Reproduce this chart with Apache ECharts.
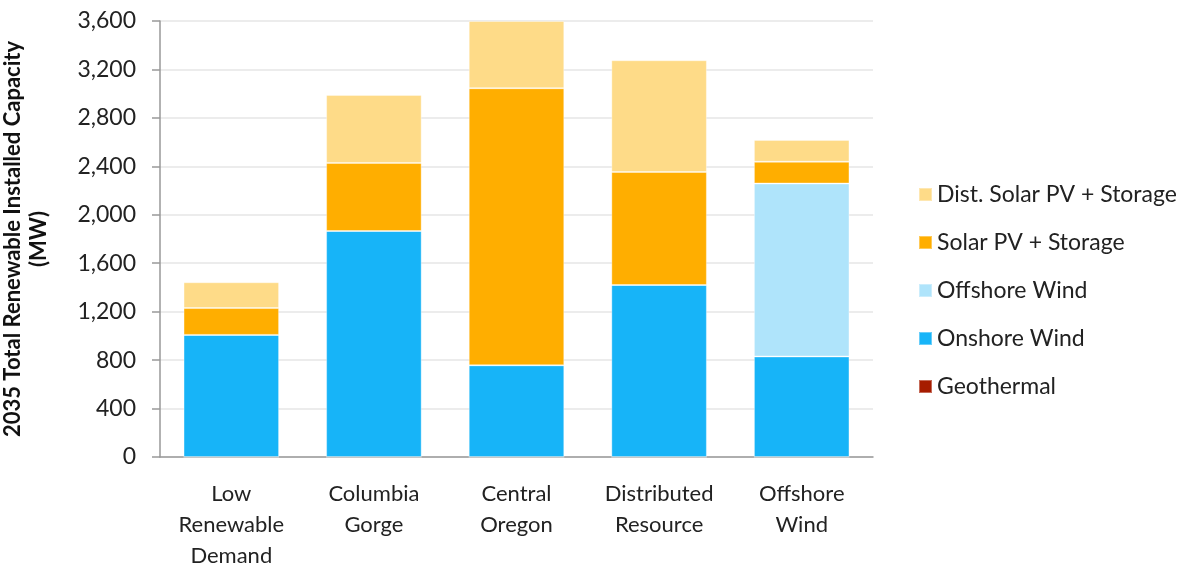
<!DOCTYPE html>
<html>
<head>
<meta charset="utf-8">
<script src="https://cdn.jsdelivr.net/npm/echarts@6/dist/echarts.min.js"></script>
<style>
  html, body { margin: 0; padding: 0; background: #fff; }
  #chart { width: 1196px; height: 571px; }
</style>
</head>
<body>
<div id="chart"></div>
<script>
// scenarios on the x axis
var categories = ['Low\nRenewable\nDemand', 'Columbia\nGorge', 'Central\nOregon', 'Distributed\nResource', 'Offshore\nWind'];

// stacked segments, MW (bottom to top)
var geothermal = [0, 0, 0, 0, 0];
var onshoreWind = [1008, 1866, 757, 1420, 830];
var offshoreWind = [0, 0, 0, 0, 1428];
var solarStorage = [222, 562, 2288, 933, 180];
var distSolarStorage = [213, 561, 555, 923, 180];

var yTicks = [0, 400, 800, 1200, 1600, 2000, 2400, 2800, 3200, 3600];

var font = 'Lato, "Open Sans", sans-serif';
var myChart = echarts.init(document.getElementById('chart'));

function seg(name, data, color) {
  return {
    name: name,
    type: 'bar',
    stack: 'total',
    barWidth: '67%',
    data: data,
    itemStyle: { color: color, borderColor: 'rgba(255,255,255,0.35)', borderWidth: 1 }
  };
}

var option = {
  animation: false,
  grid: { left: 160, right: 323, top: 21, bottom: 114, outerBoundsMode: 'none' },
  legend: {
    orient: 'vertical',
    left: 913,
    top: 178,
    itemWidth: 13,
    itemHeight: 13,
    itemGap: 25,
    icon: 'rect',
    textStyle: { fontFamily: font, fontSize: 23, color: '#222' },
    data: ['Dist. Solar PV + Storage', 'Solar PV + Storage', 'Offshore Wind', 'Onshore Wind', 'Geothermal']
  },
  xAxis: {
    type: 'category',
    data: categories,
    axisLine: { lineStyle: { color: '#999', width: 1.5 } },
    axisTick: { length: 8, lineStyle: { color: '#999', width: 1.5 } },
    axisLabel: { interval: 0, fontFamily: font, fontSize: 22, color: '#222', lineHeight: 31, margin: 21 }
  },
  yAxis: {
    type: 'value',
    min: yTicks[0],
    max: yTicks[yTicks.length - 1],
    interval: 400,
    name: '2035 Total Renewable Installed Capacity\n(MW)',
    nameLocation: 'middle',
    nameGap: 108,
    nameTextStyle: { fontFamily: font, fontSize: 22, fontWeight: 'bold', color: '#111', lineHeight: 26 },
    axisLine: { show: true, lineStyle: { color: '#999', width: 1.5 } },
    axisTick: { show: true, length: 8, lineStyle: { color: '#999', width: 1.5 } },
    axisLabel: {
      fontFamily: font, fontSize: 23, color: '#222', margin: 24,
      formatter: function (v) { return v.toLocaleString('en-US'); }
    },
    splitLine: { lineStyle: { color: '#e6e6e6', width: 1.5 } }
  },
  series: [
    seg('Geothermal', geothermal, '#a61c00'),
    seg('Onshore Wind', onshoreWind, '#17b4f8'),
    seg('Offshore Wind', offshoreWind, '#afe4fb'),
    seg('Solar PV + Storage', solarStorage, '#ffae00'),
    seg('Dist. Solar PV + Storage', distSolarStorage, '#fedb88')
  ]
};

myChart.setOption(option);
</script>
</body>
</html>
